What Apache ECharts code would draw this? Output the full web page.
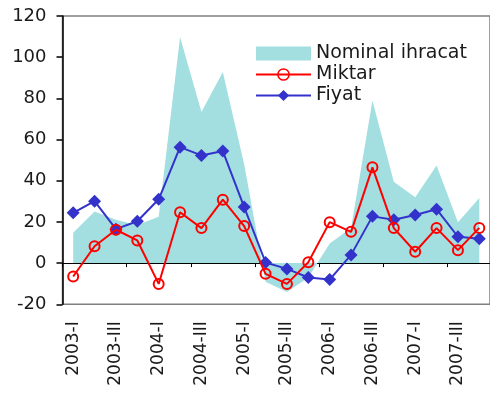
<!DOCTYPE html>
<html>
<head>
<meta charset="utf-8">
<script src="https://cdn.jsdelivr.net/npm/echarts@6/dist/echarts.min.js"></script>
<style>
html,body{margin:0;padding:0;background:#fff;}
#chart{width:490px;height:401px;}
</style>
</head>
<body>
<div id="chart"></div>
<script>
var quarters = ['2003-I','2003-II','2003-III','2003-IV','2004-I','2004-II','2004-III','2004-IV',
  '2005-I','2005-II','2005-III','2005-IV','2006-I','2006-II','2006-III','2006-IV',
  '2007-I','2007-II','2007-III','2007-IV'];
var nominalIhracat = [14.7, 25.1, 21, 18.5, 22.5, 109.8, 73.4, 92.8, 48, -9, -14, -7, 9.5, 17, 79, 39.5, 32, 47.4, 19.9, 31.6];
var miktar = [-6.5, 8.2, 16.2, 11, -10.1, 24.7, 17, 30.8, 18, -5.2, -10.1, 0.4, 19.9, 15.2, 46.5, 17, 5.5, 17, 6.3, 17.1];
var fiyat = [24.4, 30.1, 16.5, 20.3, 31, 56.3, 52.3, 54.4, 27.2, 0.3, -2.8, -7, -8, 4, 22.7, 21.1, 23.4, 26.2, 12.8, 11.8];
var yTicks = {min: -20, max: 120, interval: 20};

var FONT = 'DejaVu Sans';
var chart = echarts.init(document.getElementById('chart'), null, {renderer: 'canvas'});
chart.setOption({
  animation: false,
  backgroundColor: '#ffffff',
  grid: {left: 62.5, top: 16, width: 440, height: 288.3, show: true, borderColor: '#808080', borderWidth: 1.5, backgroundColor: 'transparent'},
  legend: {
    orient: 'vertical', left: 255, top: 44, padding: 0,
    itemWidth: 55, itemHeight: 14, itemGap: 2,
    textStyle: {fontFamily: FONT, fontSize: 19, color: '#1a1a1a'},
    data: [{name: 'Nominal ihracat', icon: 'rect'},
           {name: 'Miktar', itemStyle: {borderWidth: 1.5}},
           'Fiyat']
  },
  xAxis: [
    {type: 'category', data: quarters, position: 'bottom', boundaryGap: true,
     axisLine: {show: false, onZero: false}, axisTick: {show: false},
     axisLabel: {interval: 1, rotate: 90, margin: 17, fontFamily: FONT, fontSize: 17, color: '#1a1a1a'}},
    {type: 'category', data: quarters, position: 'bottom', boundaryGap: true,
     axisLine: {show: true, onZero: true, lineStyle: {color: '#000', width: 1}},
     axisTick: {show: true, length: 4, lineStyle: {color: '#000', width: 1}},
     axisLabel: {show: false}}
  ],
  yAxis: {
    type: 'value', min: yTicks.min, max: yTicks.max, interval: yTicks.interval,
    axisLine: {show: true, lineStyle: {color: '#000', width: 1.5}},
    axisTick: {show: true, length: 6, lineStyle: {color: '#000', width: 1.5}},
    splitLine: {show: false},
    axisLabel: {margin: 16, fontFamily: FONT, fontSize: 18, color: '#1a1a1a'}
  },
  series: [
    {name: 'Nominal ihracat', type: 'line', data: nominalIhracat, symbol: 'none', showSymbol: false,
     color: '#A3DFE0', itemStyle: {color: '#A3DFE0'},
     lineStyle: {width: 0, color: '#A3DFE0'}, areaStyle: {color: '#A3DFE0', opacity: 1}, z: 1},
    {name: 'Fiyat', type: 'line', data: fiyat, symbol: 'diamond', symbolSize: 13,
     itemStyle: {color: '#3333CC'}, lineStyle: {color: '#3333CC', width: 2}, z: 2},
    {name: 'Miktar', type: 'line', data: miktar, symbol: 'circle', symbolSize: 10,
     itemStyle: {color: 'rgba(255,255,255,0)', borderColor: '#FF0000', borderWidth: 2},
     lineStyle: {color: '#FF0000', width: 2}, z: 3}
  ]
});
</script>
</body>
</html>
